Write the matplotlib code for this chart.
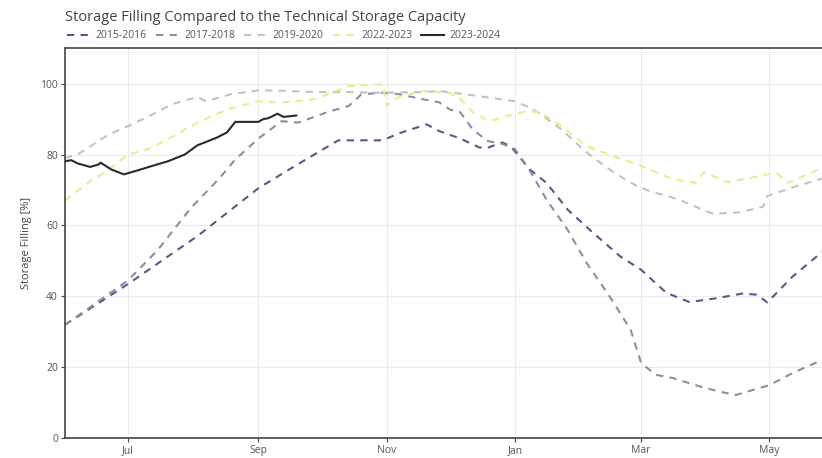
import pandas as pd
import matplotlib.pyplot as plt
import matplotlib.dates as mdates

plt.rcParams['font.family'] = ['Open Sans', 'DejaVu Sans']

## data (season axis: Jun 2023 .. May 2024, values in %)
d_1516 = ["2023-06-01", "2023-07-01", "2023-08-03", "2023-09-01", "2023-09-19", "2023-10-09",
          "2023-10-30", "2023-11-07", "2023-11-20", "2023-11-26", "2023-12-06", "2023-12-15",
          "2023-12-19", "2023-12-26", "2023-12-30", "2024-01-08", "2024-01-16", "2024-01-26",
          "2024-02-07", "2024-02-20", "2024-03-01", "2024-03-13", "2024-03-24", "2024-04-06",
          "2024-04-18", "2024-04-25", "2024-04-30", "2024-05-12", "2024-05-26"]
v_1516 = [32, 43.5, 57, 70.5, 77, 84, 84, 86, 88.5, 86.6, 84.5, 82, 81.9, 83.4, 82.3, 75.8, 72,
          64.5, 58, 51.3, 47.5, 41, 38.4, 39.5, 40.8, 40.5, 38.3, 45.6, 52.5]

d_1718 = ["2023-06-01", "2023-07-01", "2023-07-15", "2023-07-31", "2023-08-13", "2023-08-21",
          "2023-09-01", "2023-09-12", "2023-09-20", "2023-10-04", "2023-10-14", "2023-10-20",
          "2023-10-30", "2023-11-07", "2023-11-18", "2023-11-26", "2023-12-01", "2023-12-06",
          "2023-12-12", "2023-12-19", "2023-12-26", "2024-01-01", "2024-01-08", "2024-01-16",
          "2024-01-26", "2024-02-04", "2024-02-15", "2024-02-25", "2024-03-01", "2024-03-08",
          "2024-03-16", "2024-03-29", "2024-04-07", "2024-04-15", "2024-05-01", "2024-05-12",
          "2024-05-26"]
v_1718 = [32, 44.5, 53, 65, 73, 78.6, 84.5, 89.4, 89, 92, 93.7, 97, 97.4, 97, 95.6, 94.7, 92.7,
          91.9, 87, 83.8, 83, 81.5, 75.5, 67.3, 58.8, 49.5, 40, 30.6, 21.2, 17.9, 17, 14.6,
          13.2, 12.2, 15, 18.4, 22.1]

d_1920 = ["2023-06-01", "2023-06-07", "2023-06-22", "2023-07-01", "2023-07-11", "2023-07-22",
          "2023-08-03", "2023-08-07", "2023-08-19", "2023-09-01", "2023-09-11", "2023-09-28",
          "2023-10-14", "2023-10-30", "2023-11-18", "2023-11-26", "2023-12-12", "2024-01-01",
          "2024-01-07", "2024-01-12", "2024-01-23", "2024-02-04", "2024-02-17", "2024-02-28",
          "2024-03-05", "2024-03-19", "2024-04-04", "2024-04-17", "2024-04-28", "2024-04-30",
          "2024-05-14", "2024-05-26"]
v_1920 = [79, 80, 85.7, 88, 90.8, 94.2, 96.2, 95, 97, 98.1, 98, 97.6, 97.6, 97.4, 97.6, 97.9,
          96.7, 95, 93.5, 91.9, 87.1, 80.6, 74.9, 71.1, 69.7, 67.3, 63.3, 63.7, 65.3, 68.3,
          71.1, 73.2]

d_2223 = ["2023-06-01", "2023-06-12", "2023-06-22", "2023-07-01", "2023-07-11", "2023-07-20",
          "2023-08-03", "2023-08-17", "2023-09-01", "2023-09-11", "2023-09-28", "2023-10-14",
          "2023-10-30", "2023-11-01", "2023-11-06", "2023-11-18", "2023-12-01", "2023-12-06",
          "2023-12-12", "2023-12-20", "2023-12-28", "2024-01-07", "2024-01-13", "2024-01-23",
          "2024-02-04", "2024-02-17", "2024-02-28", "2024-03-05", "2024-03-16", "2024-03-27",
          "2024-03-31", "2024-04-11", "2024-04-22", "2024-05-04", "2024-05-10", "2024-05-26"]
v_2223 = [67, 72, 75.8, 80, 81.6, 84.3, 89, 92.7, 95, 94.6, 95.6, 99.3, 99.8, 93.7, 96, 97.9,
          97.4, 95.6, 91.9, 89.4, 90.8, 92.3, 91.9, 88, 82.4, 79.5, 77.2, 75.8, 73, 72, 75,
          72.2, 73.4, 74.9, 72, 76.3]

d_2324 = ["2023-06-01", "2023-06-04", "2023-06-07", "2023-06-13", "2023-06-17", "2023-06-18",
          "2023-06-23", "2023-06-29", "2023-07-06", "2023-07-12", "2023-07-20", "2023-07-28",
          "2023-08-03", "2023-08-12", "2023-08-17", "2023-08-21", "2023-09-01", "2023-09-03",
          "2023-09-06", "2023-09-10", "2023-09-13", "2023-09-19"]
v_2324 = [78.1, 78.4, 77.5, 76.5, 77.2, 77.7, 75.8, 74.4, 75.6, 76.7, 78.1, 80, 82.6, 84.7,
          86.2, 89.2, 89.2, 89.9, 90.3, 91.5, 90.6, 91]

series = [
    ("2015-2016", d_1516, v_1516, "#515c88", "--"),
    ("2017-2018", d_1718, v_1718, "#8d8ea0", "--"),
    ("2019-2020", d_1920, v_1920, "#c6c2ba", "--"),
    ("2022-2023", d_2223, v_2223, "#f2e88c", "--"),
    ("2023-2024", d_2324, v_2324, "#2a2a2a", "-"),
]

fig = plt.figure(figsize=(8.22, 4.58), dpi=100)
ax = fig.add_axes([0.079, 0.043, 0.921, 0.852])

for name, d, v, col, ls in series:
    x = pd.to_datetime(d)
    if ls == "-":
        ax.plot(x, v, color=col, lw=1.5, label=name, zorder=5)
    else:
        ax.plot(x, v, color=col, lw=1.5, ls=(0, (3.5, 3)), label=name)

ax.set_xlim(pd.Timestamp("2023-06-01"), pd.Timestamp("2024-05-26"))
ax.set_ylim(0, 110)
ax.set_yticks([0, 20, 40, 60, 80, 100])
ax.xaxis.set_major_locator(mdates.MonthLocator(bymonth=[7, 9, 11, 1, 3, 5]))
ax.xaxis.set_major_formatter(mdates.DateFormatter("%b"))

ax.grid(True, color="#ebebeb", lw=0.8)
ax.set_axisbelow(True)
for s in ["left", "bottom", "top"]:
    ax.spines[s].set_color("#444444")
    ax.spines[s].set_linewidth(1.2)
ax.spines["right"].set_visible(False)
ax.tick_params(colors="#444444", labelcolor="#555555", labelsize=7.5, length=3, width=0.8, pad=2)
ax.set_ylabel("Storage Filling [%]", fontsize=8, color="#444444", labelpad=6)

fig.text(0.079, 0.962, "Storage Filling Compared to the Technical Storage Capacity",
         fontsize=10.5, color="#444444", va="center")
fig.legend(loc="center left", bbox_to_anchor=(0.077, 0.922), ncol=5, frameon=False,
           fontsize=7.5, handlelength=2.2, columnspacing=0.9, handletextpad=0.5,
           labelcolor="#555555", borderaxespad=0)

fig.savefig("out.png", dpi=100)
